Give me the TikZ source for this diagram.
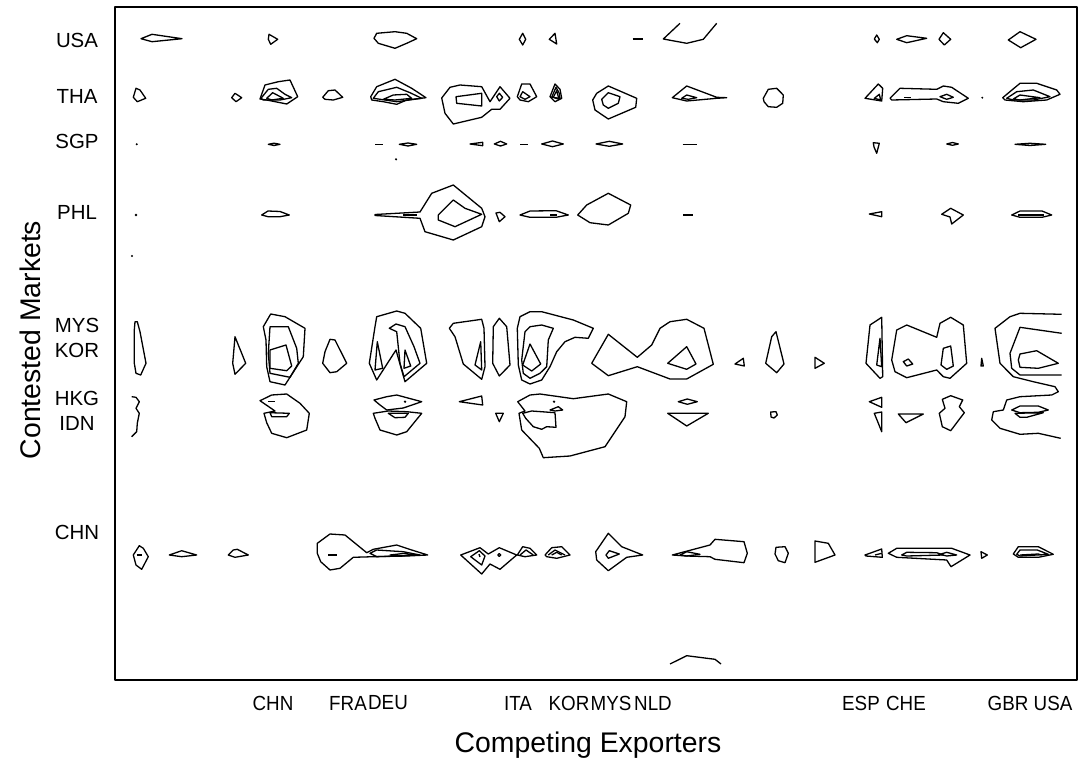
\documentclass[tikz,border=0pt]{standalone}
\usepackage{fontspec}
\setmainfont{Liberation Sans}

\begin{document}
\begin{tikzpicture}[x=1bp, y=-1bp, line join=round,
		cline/.style={line width=1.3bp},
		tick/.style={font=\fontsize{20.5}{22}\selectfont, inner sep=0pt},
		axtitle/.style={font=\fontsize{28.5}{30}\selectfont, inner sep=0pt}]

				\useasboundingbox (0,0) rectangle (1089,767);
				\draw[line width=1.4bp] (115,7) rectangle (1077,680);

				\foreach \m/\y in {USA/40, THA/96, SGP/141, PHL/212, MYS/325, KOR/350, HKG/398, IDN/423, CHN/532}
				{
					\node[tick] (mkt\m) at (77,\y) {\m};
				}
				\foreach \e/\x in {CHN/273, FRA/348, DEU/388, ITA/518, KOR/569, MYS/611, NLD/653, ESP/861, CHE/906, GBR/1008, USA/1053}
				{
					\node[tick, xscale=0.92] (exp\e) at (\x,703) {\e};
				}
				\node[axtitle] (xtitle) at (588,745) {Competing Exporters};
				\node[axtitle, rotate=90] (ytitle) at (30,340) {Contested Markets};

				% USA
				\draw[cline] (141,38.7) -- (152,34.3) -- (182,38.7) -- (152,41.7) -- cycle;
				\draw[cline] (269,34.3) -- (277.7,39.3) -- (270.7,44.3) -- (268.3,39.3) -- cycle;
				\draw[cline] (376.7,33.3) -- (395,31.7) -- (406.7,33.3) -- (416.7,38.7) -- (406.7,43.3) -- (395,48.3) -- (378.3,43.3) -- (374,38.3) -- cycle;
				\draw[cline] (522.7,33.3) -- (525.7,39.3) -- (522.7,45) -- (519.3,39.3) -- cycle;
				\draw[cline] (555,33.3) -- (556.7,44) -- (549.3,39.3) -- cycle;
				\draw[cline] (632.7,39) -- (642.7,39);
				\draw[cline] (680,23.3) -- (663.3,39) -- (686.7,43.3) -- (703.3,39.3) -- (716.7,23.3);
				\draw[cline] (876.7,35) -- (879.3,39.3) -- (877.3,42.7) -- (874.3,39) -- cycle;
				\draw[cline] (896.7,39.3) -- (906.7,35.7) -- (926.7,38.3) -- (906.7,42.7) -- cycle;
				\draw[cline] (943.3,32.7) -- (950.7,39.3) -- (944.3,45) -- (939,39.3) -- cycle;
				\draw[cline] (1020,31.7) -- (1036,39.3) -- (1020.7,47.7) -- (1008.3,40) -- cycle;

				% THA
				\draw[cline] (136,88.3) -- (140,90) -- (145.7,98.3) -- (137.3,101.7) -- (133.3,97.3) -- cycle;
				\draw[cline] (235,93.3) -- (241.7,97.7) -- (236,101.7) -- (231.7,97.7) -- cycle;
				\draw[cline] (260,99) -- (265,85) -- (278.3,81.7) -- (290,80) -- (297.7,96.7) -- (286.7,104) -- (266.7,100) -- cycle;
				\draw[cline] (261,98.3) -- (268.3,89.3) -- (276.7,88.3) -- (285,94.3) -- (291.7,97.7) -- (280,100) -- (263.3,100) -- cycle;
				\draw[cline] (266.7,98.3) -- (272.7,92.7) -- (283.3,98.3) -- (271.7,100) -- cycle;
				\draw[cline] (322.7,97.3) -- (328.3,90.7) -- (335,90) -- (342.7,97.3) -- (333.3,100) -- (325,99.3) -- cycle;
				\draw[cline] (370.7,96.7) -- (376.7,86.7) -- (395,79.3) -- (411.7,88.3) -- (426,97.7) -- (406.7,100) -- (396.7,104.3) -- (383.3,101.7) -- (371.7,100) -- cycle;
				\draw[cline] (373.3,98.3) -- (378.3,91.7) -- (396.7,87.3) -- (410,92.7) -- (421.7,98.3) -- (396.7,101.7) -- cycle;
				\draw[cline] (383.3,99.3) -- (393.3,95) -- (406.7,94.3) -- (411.7,98.3) -- (395,100) -- cycle;
				\draw[cline] (441.7,98) -- (450,87.3) -- (460,85) -- (481.7,86.7) -- (490,101.7) -- (500,86.7) -- (510,98.3) -- (500,109.3) -- (491.7,109.3) -- (481.7,117.3) -- (453.3,124) -- (445,113.3) -- cycle;
				\draw[cline] (456,96.7) -- (481.7,93.3) -- (481.7,106) -- (456.7,103.3) -- cycle;
				\draw[cline] (496.7,96.7) -- (499.3,93.3) -- (502.7,97.3) -- (499.3,101) -- cycle;
				\draw[cline] (517.3,96.7) -- (521.7,84) -- (530,84) -- (536.7,96.7) -- (528.3,101.7) -- (520,100) -- cycle;
				\draw[cline] (520,96.7) -- (522.7,91.7) -- (530,96.7) -- (525,99.3) -- cycle;
				\draw[cline] (550,96.7) -- (555,84) -- (560,89.3) -- (561.7,98.3) -- (555,101.7) -- cycle;
				\draw[cline] (551.7,97.3) -- (556,87.3) -- (559.3,93.3) -- (560,98.3) -- cycle;
				\draw[cline] (553.3,97.3) -- (556.7,90.7) -- (559,99.3) -- cycle;
				\draw[cline] (592.7,100) -- (596.7,93.3) -- (608.3,86) -- (636.7,98.3) -- (635.7,107.3) -- (608.3,119) -- (595,110) -- cycle;
				\draw[cline] (601.7,99.3) -- (608.3,92.7) -- (620,96.7) -- (618.3,103.3) -- (608.3,108.3) -- (603.3,105) -- cycle;
				\draw[cline] (672.3,97.7) -- (686.7,86) -- (716.7,97.3) -- (726.7,97.7) -- (716.7,98.3) -- (686.7,101) -- cycle;
				\draw[cline] (681.7,98.3) -- (686.7,95) -- (696.7,97.7) -- (688.3,99.3) -- cycle;
				\draw[cline] (763.3,98.3) -- (768.3,89.3) -- (776.7,88.3) -- (783.3,95) -- (782.7,103.3) -- (776.7,107.3) -- (768.3,106.7) -- (764,101.7) -- cycle;
				\draw[cline] (865,98.3) -- (878.3,84) -- (882.7,88.3) -- (881.7,101) -- cycle;
				\draw[cline] (874.3,98.3) -- (879.3,94.3) -- (880.7,100) -- cycle;
				\draw[cline] (890,98.3) -- (900,88.3) -- (936.7,89.3) -- (943.3,86) -- (951.7,87.3) -- (968.3,98.3) -- (958.3,103.3) -- (943.3,101.7) -- (936.7,99) -- (891.7,100) -- cycle;
				\draw[cline] (940,96.7) -- (946.7,94.3) -- (953.3,97.3) -- (946.7,99.3) -- cycle;
				\draw[cline] (904,97.3) -- (910.7,97.3);
				\fill (982.3,97.7) circle (1.1);
				\draw[cline] (1002.7,97.7) -- (1020,83.3) -- (1036.7,83.3) -- (1056.7,90) -- (1060,94.3) -- (1046.7,100) -- (1023.3,101.7) -- (1005,100) -- cycle;
				\draw[cline] (1006.7,98.3) -- (1016.7,91.7) -- (1033.3,90) -- (1050,96.7) -- (1033.3,100) -- (1013.3,100) -- cycle;
				\draw[cline] (1013.3,99) -- (1020,95) -- (1040,97.7) -- (1020,100) -- cycle;

				% SGP
				\fill (136.7,144.3) circle (1.1);
				\draw[cline] (268.3,144.3) -- (274,143.2) -- (280,144.3) -- (274,145.5) -- cycle;
				\draw[cline] (375,144.3) -- (383.3,144.3);
				\draw[cline] (399.3,144.3) -- (408,143) -- (416.7,144.3) -- (408,146) -- cycle;
				\fill (396,159.3) circle (1.2);
				\draw[cline] (470,144) -- (482.7,142.3) -- (482.7,145.7) -- cycle;
				\draw[cline] (494.3,144) -- (500.5,141.3) -- (506.7,144) -- (500.5,146) -- cycle;
				\draw[cline] (520,144.3) -- (528.3,144.3);
				\draw[cline] (541.7,144) -- (552.5,141) -- (563.3,144) -- (552.5,146.7) -- cycle;
				\draw[cline] (596,144) -- (609.3,141.3) -- (622.7,144) -- (609.3,146.3) -- cycle;
				\draw[cline] (682.7,144.3) -- (696.7,144.3);
				\draw[cline] (873.3,142.7) -- (879.3,143.3) -- (876.7,153.3) -- (874,147) -- cycle;
				\draw[cline] (946.7,144) -- (952.5,142.5) -- (958.3,144) -- (952.5,145.3) -- cycle;
				\draw[cline] (1015,144.3) -- (1030,143.3) -- (1045.7,144.3) -- (1030,145.5) -- cycle;

				% PHL
				\fill (136,215) circle (1.3);
				\fill (132,256) circle (1.1);
				\draw[cline] (261.7,215) -- (268,211) -- (280,211.5) -- (289.3,215) -- (280,216.7) -- (268,216.7) -- cycle;
				\draw[cline] (375,214.5) -- (420,212) -- (431.7,193.3) -- (453.3,185) -- (481.7,208.3) -- (485,216.7) -- (481.7,226.7) -- (453.3,240) -- (425,231.7) -- (420,218.3) -- (375,215.5) -- cycle;
				\draw[cline] (438.3,215) -- (453.3,200) -- (465,208.3) -- (481.7,214.3) -- (455,226.7) -- (438.3,220) -- cycle;
				\draw[cline] (403,215) -- (416.7,215);
				\draw[cline] (496,213) -- (500,212.3) -- (505,216.7) -- (499.3,221.7) -- cycle;
				\draw[cline] (520,215) -- (530,211) -- (556,210.7) -- (568.3,215) -- (556,217.3) -- (530,217.3) -- cycle;
				\draw[cline] (550,215) -- (557,215);
				\draw[cline] (577.7,215) -- (586.7,205) -- (608.3,193.3) -- (630.7,205) -- (628.3,213.3) -- (608.3,225) -- (590,222.7) -- cycle;
				\draw[cline] (683.3,215) -- (693.3,215);
				\draw[cline] (869.3,214) -- (881.7,211.7) -- (881.7,216.7) -- cycle;
				\draw[cline] (941.7,214.3) -- (950.7,208.3) -- (963.3,215) -- (951.7,224) -- (950,217) -- cycle;
				\draw[cline] (1011.7,215) -- (1020,211) -- (1042,211) -- (1051.7,215) -- (1042,217.3) -- (1020,217.3) -- cycle;
				\draw[cline] (1018,215) -- (1044,215);

				% MYS / KOR
				\draw[cline] (135,321.7) -- (137.3,321.7) -- (140,331.7) -- (146,363.3) -- (140.7,375) -- (136,373.3) -- (134.3,363.3) -- (134.3,330) -- cycle;
				\draw[cline] (235,336.7) -- (245.7,363.3) -- (235,374.3) -- (232.7,363.3) -- cycle;
				\draw[cline] (263.3,326.7) -- (270.7,314) -- (285,316.7) -- (305,328.3) -- (303.3,356.7) -- (285,385) -- (270,381.7) -- (266.7,366.7) -- (266,340) -- cycle;
				\draw[cline] (270,326.7) -- (288.3,326.7) -- (296.7,348.3) -- (298.3,363.3) -- (290,377.3) -- (270,373.3) -- (268.3,353.3) -- cycle;
				\draw[cline] (270,350) -- (286,345) -- (291.7,366) -- (286.7,370.7) -- (270,368.3) -- cycle;
				\draw[cline] (330,339.3) -- (335,340) -- (346.7,363.3) -- (336.7,371.7) -- (330,372.7) -- (322.7,363.3) -- (325,351.7) -- cycle;
				\draw[cline] (375,326.7) -- (376.7,316.7) -- (396.7,311) -- (405,313.3) -- (420.7,328.3) -- (426.7,363.3) -- (405,381.7) -- (396,350) -- (376.7,380) -- (369.3,363.3) -- cycle;
				\draw[cline] (389.3,328.3) -- (396,324) -- (405,326.7) -- (414,346.7) -- (420,363.3) -- (404,376.7) -- (400,363.3) -- (396.7,331.7) -- cycle;
				\draw[cline] (405,350) -- (410.7,366) -- (404,368.3) -- cycle;
				\draw[cline] (377.3,341.7) -- (382.7,368.3) -- (375,370) -- cycle;
				\draw[cline] (449.3,328.3) -- (453.3,323.3) -- (481.7,319.3) -- (484,328.3) -- (485,366.7) -- (481.7,379.3) -- (463.3,364) -- (455,336.7) -- cycle;
				\draw[cline] (480.7,341.7) -- (481.7,370) -- (475,365) -- cycle;
				\draw[cline] (499.3,318.3) -- (506.7,326.7) -- (510,365) -- (499.3,376) -- (492.7,363.3) -- (493.3,326.7) -- cycle;
				\draw[cline] (520,316.7) -- (530,311.7) -- (541.7,311.7) -- (573.3,320) -- (593.3,328.3) -- (588.3,338.3) -- (575,337.3) -- (565,341.7) -- (556.7,351.7) -- (550,366.7) -- (541.7,380) -- (530,384) -- (521.7,380) -- (518.3,365) -- (517.3,328.3) -- cycle;
				\draw[cline] (525,331.7) -- (530,326.7) -- (541.7,325) -- (553.3,328.3) -- (548.3,340) -- (546.7,366.7) -- (540,373.3) -- (530,378.3) -- (523.3,373.3) -- (521.7,360) -- cycle;
				\draw[cline] (530,344) -- (540.7,364) -- (531.7,371) -- (522.7,365) -- cycle;
				\draw[cline] (591.7,363.3) -- (608.3,334.3) -- (637.3,357.3) -- (651.7,345) -- (660,328.3) -- (670,321.7) -- (686.7,319.3) -- (704,328.3) -- (713.3,364.3) -- (686.7,379) -- (670,379) -- (637.3,366.7) -- (608.3,375.7) -- cycle;
				\draw[cline] (667.7,363.3) -- (686.7,346.7) -- (696,364) -- (686.7,369.3) -- cycle;
				\draw[cline] (735,364) -- (743.3,358.3) -- (744.3,366) -- cycle;
				\draw[cline] (776,331.7) -- (784,364) -- (776.7,372.7) -- (765.7,363.3) -- (771.7,336.7) -- cycle;
				\draw[cline] (815,357.3) -- (824.3,363.3) -- (815,368.3) -- cycle;
				\draw[cline] (866,363.3) -- (870,325) -- (881.7,317.3) -- (882.7,376.7) -- (880,378.3) -- cycle;
				\draw[cline] (876.7,365) -- (880,338.3) -- (881.7,366.7) -- cycle;
				\draw[cline] (891.7,360) -- (896.7,330) -- (906.7,325) -- (936.7,337.3) -- (940,323.3) -- (950.7,317.3) -- (963.3,325) -- (966.7,363.3) -- (950,378.3) -- (943.3,376.7) -- (936.7,370) -- (906.7,377.7) -- (895,371.7) -- cycle;
				\draw[cline] (903.3,361.7) -- (908.3,359) -- (912.7,364) -- (906.7,366) -- cycle;
				\draw[cline] (943.3,348.3) -- (950.7,346) -- (953.3,366) -- (946.7,369.3) -- (941,365) -- cycle;
				\draw[cline] (981.7,358.3) -- (983.3,366) -- (981,366) -- cycle;
				\draw[cline] (1061.7,314.3) -- (1020,313.3) -- (1010,316.7) -- (995,328.3) -- (1000,363.3) -- (1013.3,376.7) -- (1033.3,381.7) -- (1055,386.7) -- (1058.3,391.7) -- (1051.7,395) -- (1020,396.7) -- (1006.7,400) -- (1003.3,410) -- (993.3,411.7) -- (991.7,420) -- (1000,428.3) -- (1020,434.3) -- (1038.3,433.3) -- (1060.7,438.3);
				\draw[cline] (1061.7,333.3) -- (1020,327.3) -- (1010,353.3) -- (1011.7,368.3) -- (1020,375) -- (1061.7,375);
				\draw[cline] (1018.3,360) -- (1020,354) -- (1036.7,350.7) -- (1058.3,363.3) -- (1038.3,368.3) -- (1020,367.3) -- cycle;

				% HKG / IDN
				\draw[cline] (131.7,396.7) -- (136,397.3) -- (139.3,401.7) -- (136,408.3) -- (139.3,413.3) -- (137.3,423.3) -- (136.7,431.7) -- (131.7,436.7);
				\draw[cline] (260,400.7) -- (271.7,395) -- (286.7,394) -- (300,403.3) -- (309.3,413.3) -- (306.7,430) -- (286.7,437.7) -- (271.7,433.3) -- (266.7,422.7) -- (264,413.3) -- (275,411) -- cycle;
				\draw[cline] (270,412.7) -- (289.3,413.3) -- (286.7,416.7) -- (271.7,416.7) -- cycle;
				\draw[cline] (268.3,401.7) -- (275,401.7);
				\draw[cline] (374,400) -- (386.7,396.7) -- (396.7,395) -- (421.7,401.7) -- (403.3,408) -- (386.7,410) -- (380,405) -- cycle;
				\draw[cline] (373.3,413.3) -- (388.3,411) -- (406.7,411.7) -- (421.7,413.3) -- (406.7,431.7) -- (396.7,435) -- (380,430) -- (375,418.3) -- cycle;
				\draw[cline] (388.3,413.3) -- (408.3,413.3) -- (405,417.3) -- (395,417.7) -- cycle;
				\fill (405,401.7) circle (1.3);
				\draw[cline] (459.3,401.7) -- (481.7,396) -- (482.7,405) -- cycle;
				\draw[cline] (495.7,413.3) -- (503.3,413.3) -- (499.3,421.7) -- cycle;
				\draw[cline] (517.7,401.7) -- (530,395) -- (540,394) -- (573.3,398.7) -- (608.3,394) -- (626.7,401.7) -- (625,416.7) -- (605,446.7) -- (570,456) -- (543.3,457.7) -- (539.3,448.3) -- (521.7,430) -- (519,413.3) -- (525,411) -- cycle;
				\draw[cline] (522.7,413.3) -- (531.7,411) -- (555,412.7) -- (556,427.3) -- (546.7,426.7) -- (541.7,429.3) -- (533.3,426.7) -- (525.7,418.3) -- cycle;
				\draw[cline] (550,410) -- (558.3,406.7) -- (562.7,410) -- (555,411) -- cycle;
				\fill (554,401.7) circle (1.3);
				\draw[cline] (678.3,401.7) -- (687.3,399) -- (697.3,401.7) -- (687.3,404.3) -- cycle;
				\draw[cline] (667.7,413.3) -- (708.3,413.3) -- (686.7,426) -- cycle;
				\draw[cline] (770.7,412) -- (776,411.7) -- (777.3,415) -- (774,418) -- (771,417) -- cycle;
				\draw[cline] (869.3,401.7) -- (881.7,397.3) -- (881.7,407.3) -- cycle;
				\draw[cline] (874.3,413.3) -- (881.7,412) -- (881.7,431.7) -- cycle;
				\draw[cline] (898.3,414) -- (923.3,414) -- (906,422.7) -- cycle;
				\draw[cline] (942.3,399.3) -- (950.7,395.7) -- (962.7,400) -- (959.3,406.7) -- (964.3,412.7) -- (950.7,430.7) -- (942.3,426.7) -- (939.3,413.3) -- (945,408.3) -- cycle;
				\draw[cline] (1011.7,410) -- (1020,406) -- (1038.3,406) -- (1048.3,410) -- (1038.3,412.3) -- (1020,412.7) -- cycle;
				\draw[cline] (1015,413.3) -- (1043.3,412.7) -- (1026.7,417.3) -- (1020,417.3) -- cycle;

				% CHN
				\draw[cline] (139.3,545.7) -- (143.3,548.3) -- (148.3,556.7) -- (141.7,569.3) -- (136,565) -- (133.3,555) -- cycle;
				\draw[cline] (136.7,555) -- (141.7,555);
				\draw[cline] (169.3,555) -- (181.7,550.7) -- (196.7,555) -- (181.7,556.7) -- cycle;
				\draw[cline] (228.3,555) -- (233.3,550) -- (237.3,549.3) -- (248.3,555) -- (235,557.3) -- cycle;
				\draw[cline] (317.3,543.3) -- (330,534) -- (345,535) -- (366.7,552.7) -- (373.3,549.3) -- (396.7,545) -- (411.7,550) -- (427.7,555) -- (406.7,556) -- (373.3,556.7) -- (353.3,557.3) -- (340,568.3) -- (330,570) -- (320.7,561.7) -- (317.3,553.3) -- cycle;
				\draw[cline] (328.3,555) -- (336.7,555);
				\draw[cline] (370,553.3) -- (376.7,550) -- (403.3,551.7) -- (420,555) -- (376.7,556.7) -- cycle;
				\draw[cline] (390,555) -- (405,553.3) -- (413.3,555) -- (400,556) -- cycle;
				\draw[cline] (460.7,555) -- (480,547.7) -- (488.3,554) -- (499.3,547.7) -- (516.7,555) -- (500,569.3) -- (490,564) -- (481.7,574) -- cycle;
				\draw[cline] (470.7,556.7) -- (479.3,550.7) -- (485,556) -- (481.7,565) -- cycle;
				\draw[cline] (479,554) -- (480,557);
				\draw[cline] (499.3,555) circle (1.5);
				\draw[cline] (517.3,555) -- (522.7,546.7) -- (530,548.3) -- (536.7,555) -- (525,556.7) -- cycle;
				\draw[cline] (520,555) -- (526,550) -- (533.3,555);
				\draw[cline] (545,555) -- (551.7,547.7) -- (561.7,546.7) -- (570,555) -- (556.7,558.3) -- (546.7,556.7) -- cycle;
				\draw[cline] (548.3,555) -- (555,550) -- (565,555);
				\draw[cline] (551.7,555) -- (556.7,552.3) -- (561.7,555);
				\draw[cline] (595.7,551.7) -- (608.3,533.3) -- (621.7,546.7) -- (642.7,555) -- (626.7,557.3) -- (608.3,570.7) -- (596.7,560) -- cycle;
				\draw[cline] (606,555) -- (609.3,550.7) -- (619.3,554) -- (608.3,558.3) -- cycle;
				\draw[cline] (672.3,555) -- (710,545) -- (715,539.3) -- (744,541.7) -- (747.3,553.3) -- (744,562.7) -- (715,559.3) -- (710,556.7) -- (686.7,556) -- cycle;
				\draw[cline] (680,555) -- (686.7,551.7) -- (700,554.3) -- (686.7,556) -- cycle;
				\draw[cline] (776,547.3) -- (785,546.7) -- (788.3,553.3) -- (785,562.7) -- (778.3,560.7) -- (775,554) -- cycle;
				\draw[cline] (815,541) -- (828.3,543.3) -- (835,555) -- (815,562.3) -- cycle;
				\draw[cline] (865,555) -- (881.7,549) -- (882.3,557.3) -- (866,556) -- cycle;
				\draw[cline] (875,555) -- (881.7,553.3);
				\draw[cline] (888.3,553.3) -- (896.7,548.3) -- (951.7,548.3) -- (970,555) -- (951,566.7) -- (946.7,560) -- (896.7,557.3) -- cycle;
				\draw[cline] (901.7,555) -- (906.7,552.3) -- (936.7,552.7) -- (943.3,555) -- (906.7,556) -- cycle;
				\draw[cline] (940,554.3) -- (946.7,552.3) -- (956.7,555) -- (946.7,556) -- cycle;
				\draw[cline] (981,551.7) -- (987.3,555) -- (981.7,558.3) -- cycle;
				\draw[cline] (1013.3,554) -- (1018.3,546.7) -- (1038.3,546.7) -- (1053.3,554.3) -- (1038.3,557.3) -- (1018.3,557.3) -- cycle;
				\draw[cline] (1016.7,554.3) -- (1020,550) -- (1037.3,550) -- (1048.3,554.3) -- (1020,556) -- cycle;
				\draw[cline] (1020,555) -- (1038.3,554) -- (1041.7,555);

				% bottom
				\draw[cline] (670,664) -- (686.7,655.7) -- (715,659.3) -- (721,664);
		\end{tikzpicture}
\end{document}
